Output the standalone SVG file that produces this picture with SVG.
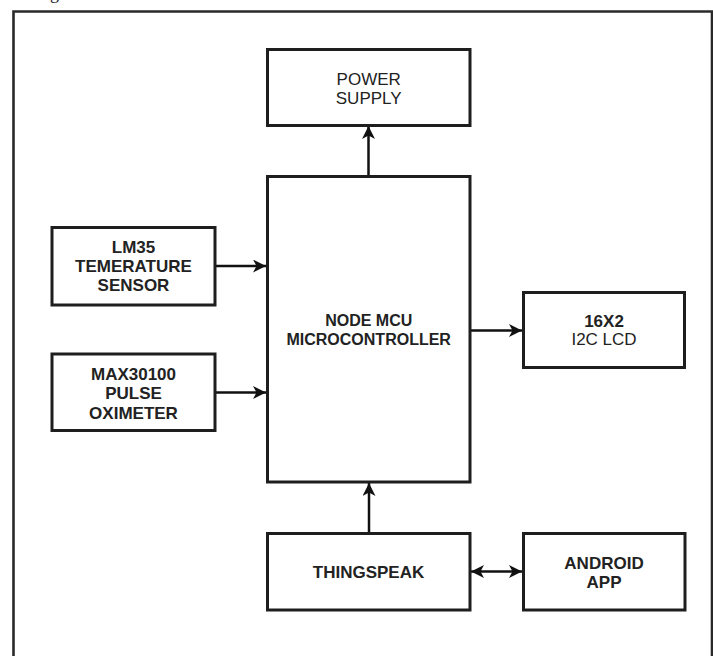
<svg xmlns="http://www.w3.org/2000/svg" width="713" height="656" viewBox="0 0 713 656">
<style>
.box{fill:#fff;stroke:#1e1e1e;stroke-width:3}
.t{font-family:"Liberation Sans",Arial,sans-serif;font-size:17px;fill:#222;text-anchor:middle;font-weight:bold}
.n{font-weight:normal}
.c{stroke:#111;stroke-width:2.5;fill:none}
</style>
<defs>
<marker id="ah" markerUnits="userSpaceOnUse" markerWidth="16" markerHeight="14" refX="13" refY="6.5" orient="auto-start-reverse">
<path d="M0,0 L13,6.5 L0,13 L3.5,6.5 z" fill="#111"/>
</marker>
</defs>
<text x="50" y="-1" style="font-family:'Liberation Serif',serif;font-size:18px;fill:#222">g</text>
<path d="M13.5,700 V11.5 H712 V700" fill="none" stroke="#2a2a2a" stroke-width="2.6"/>
<g id="connectors">
<path class="c" d="M368.5,176 V126" marker-end="url(#ah)"/>
<path class="c" d="M216,266 H266" marker-end="url(#ah)"/>
<path class="c" d="M216,392.5 H266" marker-end="url(#ah)"/>
<path class="c" d="M471,330.5 H522" marker-end="url(#ah)"/>
<path class="c" d="M369,532 V483" marker-end="url(#ah)"/>
<path class="c" d="M471,571.5 H522" marker-start="url(#ah)" marker-end="url(#ah)"/>
</g>
<g id="power">
<rect class="box" x="267.5" y="49.5" width="202.5" height="76"/>
<text class="t n" x="368.7" y="85">POWER</text>
<text class="t n" x="368.7" y="103.5">SUPPLY</text>
</g>
<g id="mcu">
<rect class="box" x="267.5" y="176.5" width="202.5" height="305.5"/>
<text class="t" style="font-size:16px" x="368.7" y="326">NODE MCU</text>
<text class="t" style="font-size:16px" x="368.7" y="345">MICROCONTROLLER</text>
</g>
<g id="lm35">
<rect class="box" x="52" y="227.5" width="163" height="77.5"/>
<text class="t" x="133.5" y="253.3">LM35</text>
<text class="t" x="133.5" y="272.3">TEMERATURE</text>
<text class="t" x="133.5" y="291.3">SENSOR</text>
</g>
<g id="max30100">
<rect class="box" x="52" y="354" width="163" height="76.5"/>
<text class="t" x="133.5" y="379.5">MAX30100</text>
<text class="t" x="133.5" y="399">PULSE</text>
<text class="t" x="133.5" y="418.5">OXIMETER</text>
</g>
<g id="lcd">
<rect class="box" x="523.5" y="292.5" width="161" height="75"/>
<text class="t" x="604" y="326.7">16X2</text>
<text class="t n" x="604" y="345">I2C LCD</text>
</g>
<g id="thingspeak">
<rect class="box" x="267.5" y="533.5" width="202.5" height="76.5"/>
<text class="t" x="368.5" y="577.5">THINGSPEAK</text>
</g>
<g id="android">
<rect class="box" x="523.5" y="533.5" width="161.5" height="76.5"/>
<text class="t" x="604" y="569">ANDROID</text>
<text class="t" x="604" y="587.5">APP</text>
</g>
</svg>
